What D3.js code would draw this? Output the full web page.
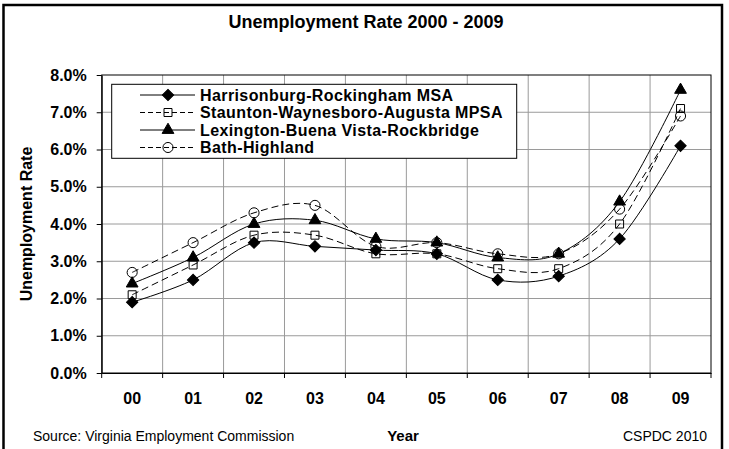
<!DOCTYPE html>
<html>
<head>
<meta charset="utf-8">
<script src="https://cdn.jsdelivr.net/npm/d3@7"></script>
<style>
  body { margin: 0; background: #fff; }
  text { font-family: "Liberation Sans", Arial, sans-serif; fill: #000; }
</style>
</head>
<body>
<svg id="chart"></svg>
<script>
// data (percent)
const years = ['00', '01', '02', '03', '04', '05', '06', '07', '08', '09'];
const harrisonburg = [1.9, 2.5, 3.5, 3.4, 3.3, 3.2, 2.5, 2.6, 3.6, 6.1];
const staunton = [2.1, 2.9, 3.7, 3.7, 3.2, 3.2, 2.8, 2.8, 4.0, 7.1];
const lexington = [2.4, 3.1, 4.0, 4.1, 3.6, 3.5, 3.1, 3.2, 4.6, 7.6];
const bath = [2.7, 3.5, 4.3, 4.5, 3.4, 3.5, 3.2, 3.2, 4.4, 6.9];
const seriesNames = ['Harrisonburg-Rockingham MSA', 'Staunton-Waynesboro-Augusta MPSA',
  'Lexington-Buena Vista-Rockbridge', 'Bath-Highland'];
const yTicks = [0, 1, 2, 3, 4, 5, 6, 7, 8];

const width = 729, height = 449;
const plot = { left: 101.7, right: 711, top: 75, bottom: 373 };

const svg = d3.select('#chart').attr('width', width).attr('height', height);

// outer chart frame
svg.append('rect')
  .attr('x', 3.5).attr('y', 5).attr('width', 718.5).attr('height', 460)
  .attr('fill', 'none').attr('stroke', '#000').attr('stroke-width', 2.5);

const x = d3.scaleBand().domain(years).range([plot.left, plot.right]);
const y = d3.scaleLinear().domain([0, 8]).range([plot.bottom, plot.top]);
const cx = d => x(d) + x.bandwidth() / 2;

// gridlines
svg.append('g').selectAll('line')
  .data(yTicks.slice(1, -1))
  .enter().append('line')
  .attr('x1', plot.left).attr('x2', plot.right)
  .attr('y1', d => y(d)).attr('y2', d => y(d))
  .attr('stroke', '#9a9a9a');
svg.append('g').selectAll('line')
  .data(years.slice(1))
  .enter().append('line')
  .attr('x1', d => x(d)).attr('x2', d => x(d))
  .attr('y1', plot.top).attr('y2', plot.bottom)
  .attr('stroke', '#9a9a9a');

// plot border
svg.append('rect')
  .attr('x', plot.left).attr('y', plot.top)
  .attr('width', plot.right - plot.left).attr('height', plot.bottom - plot.top)
  .attr('fill', 'none').attr('stroke', '#000');

// y axis
const yAxis = svg.append('g')
  .attr('transform', `translate(${plot.left},0)`)
  .call(d3.axisLeft(y).tickValues(yTicks).tickFormat(d => d.toFixed(1) + '%')
    .tickSize(5).tickPadding(10).tickSizeOuter(0));
yAxis.selectAll('text').style('font-size', '16px').style('font-weight', 'bold')
  .style('font-family', '"Liberation Sans", Arial, sans-serif');
yAxis.select('.domain').attr('stroke', '#000');

// x axis labels
const xAxis = svg.append('g')
  .attr('transform', `translate(0,${plot.bottom})`)
  .call(d3.axisBottom(x).tickSize(0).tickPadding(20));
xAxis.selectAll('text').style('font-size', '16px').style('font-weight', 'bold')
  .style('font-family', '"Liberation Sans", Arial, sans-serif');
xAxis.select('.domain').attr('stroke', '#000');

// x ticks on category boundaries
svg.append('g').selectAll('line')
  .data(years.concat(['end']))
  .enter().append('line')
  .attr('x1', d => d === 'end' ? plot.right : x(d))
  .attr('x2', d => d === 'end' ? plot.right : x(d))
  .attr('y1', plot.bottom).attr('y2', plot.bottom + 5)
  .attr('stroke', '#000');

// series
const series = [
  { name: seriesNames[0], values: harrisonburg, dash: null, symbol: d3.symbolSquare, size: 64, rotate: 45, fill: '#000' },
  { name: seriesNames[1], values: staunton, dash: '7,4', symbol: d3.symbolSquare, size: 64, rotate: 0, fill: 'none' },
  { name: seriesNames[2], values: lexington, dash: null, symbol: d3.symbolTriangle, size: 60, rotate: 0, fill: '#000' },
  { name: seriesNames[3], values: bath, dash: '7,4', symbol: d3.symbolCircle, size: 80, rotate: 0, fill: 'none' }
];

const line = d3.line()
  .x((d, i) => cx(years[i]))
  .y(d => y(d))
  .curve(d3.curveCardinal.tension(0));

series.forEach(s => {
  svg.append('path')
    .attr('d', line(s.values))
    .attr('fill', 'none')
    .attr('stroke', '#000')
    .attr('stroke-width', 1)
    .attr('stroke-dasharray', s.dash);
});

series.forEach(s => {
  svg.append('g').selectAll('path')
    .data(s.values)
    .enter().append('path')
    .attr('d', d3.symbol(s.symbol, s.size))
    .attr('transform', (d, i) => `translate(${cx(years[i])},${y(d)}) rotate(${s.rotate})`)
    .attr('fill', s.fill)
    .attr('stroke', '#000')
    .attr('stroke-width', 1);
});

// legend
const legend = svg.append('g');
legend.append('rect')
  .attr('x', 111.7).attr('y', 84.3).attr('width', 405).attr('height', 74)
  .attr('fill', '#fff').attr('stroke', '#000');
const rowY = d3.scalePoint().domain(seriesNames).range([95, 147.5]);
series.forEach(s => {
  const ly = rowY(s.name);
  legend.append('line')
    .attr('x1', 140).attr('x2', 195).attr('y1', ly).attr('y2', ly)
    .attr('stroke', '#000').attr('stroke-dasharray', s.dash ? '5,3' : null);
  legend.append('path')
    .attr('d', d3.symbol(s.symbol, s.size))
    .attr('transform', `translate(168,${ly}) rotate(${s.rotate})`)
    .attr('fill', s.fill).attr('stroke', '#000');
  legend.append('text')
    .attr('x', 200).attr('y', ly).attr('dy', '0.36em')
    .style('font-size', '16px').style('font-weight', 'bold').style('letter-spacing', '0.4px')
    .text(s.name);
});

// titles and notes
svg.append('text')
  .attr('x', 366).attr('y', 28).attr('text-anchor', 'middle')
  .style('font-size', '18px').style('font-weight', 'bold')
  .text('Unemployment Rate 2000 - 2009');

svg.append('text')
  .attr('transform', `translate(32,${(plot.top + plot.bottom) / 2}) rotate(-90)`)
  .attr('text-anchor', 'middle')
  .style('font-size', '16px').style('font-weight', 'bold')
  .text('Unemployment Rate');

svg.append('text')
  .attr('x', 403).attr('y', 441).attr('text-anchor', 'middle')
  .style('font-size', '15px').style('font-weight', 'bold')
  .text('Year');

svg.append('text')
  .attr('x', 33).attr('y', 441)
  .style('font-size', '14px')
  .text('Source: Virginia Employment Commission');

svg.append('text')
  .attr('x', 707).attr('y', 441).attr('text-anchor', 'end')
  .style('font-size', '14px')
  .text('CSPDC 2010');
</script>
</body>
</html>
